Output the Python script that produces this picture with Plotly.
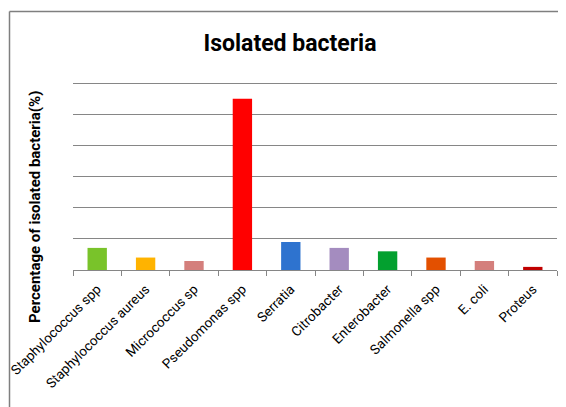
import plotly.graph_objects as go

categories = ["Staphylococcus spp", "Staphylococcus aureus", "Micrococcus sp",
              "Pseudomonas spp", "Serratia", "Citrobacter", "Enterobacter",
              "Salmonella spp", "E. coli", "Proteus"]
values = [7.1, 4.0, 2.9, 55.0, 9.0, 7.1, 6.0, 4.0, 2.9, 1.0]
colors = ["#79C32A", "#FFB300", "#D47F7C", "#FF0000", "#2E73CF",
          "#A48CBF", "#03A02F", "#E35000", "#D47F7C", "#C00000"]

OFF = 8  # page body margin
W, H = 566 - OFF, 407 - OFF
L, R, T, B = 73 - OFF, 9, 82 - OFF, 137
pw = W - L - R
ph = H - T - B

def px_x(p):
    return (p - OFF - L) / pw

def px_y(p):
    return (H - B - (p - OFF)) / ph

grey = "#868686"

fig = go.Figure(go.Bar(
    x=categories, y=values, marker=dict(color=colors, line=dict(width=0)),
    width=0.4,
))

fig.update_layout(
    width=W, height=H,
    margin=dict(l=L, r=R, t=T, b=B, autoexpand=False),
    plot_bgcolor="white", paper_bgcolor="white",
    showlegend=False,
    title=dict(text="<b>Isolated bacteria</b>", x=(290 - OFF) / W, xanchor="center",
               y=1 - (43 - OFF) / H, yanchor="middle",
               font=dict(family="Roboto, sans-serif", size=23, color="#000000")),
    xaxis=dict(
        tickangle=-45, showline=True, linecolor=grey, linewidth=1,
        ticks="outside", ticklen=5, tickcolor=grey, tickson="boundaries",
        ticklabelstandoff=5,
        tickfont=dict(family="Roboto, sans-serif", size=13.5, color="#000000"),
        showgrid=False, automargin=False,
    ),
    yaxis=dict(
        range=[0, 60.4], dtick=10, showticklabels=False, showgrid=True,
        gridcolor=grey, gridwidth=1, zeroline=False, showline=False, ticks="",
        automargin=False,
    ),
    annotations=[dict(
        text="<b>Percentage of isolated bacteria(%)</b>", textangle=-90,
        xref="paper", yref="paper", x=px_x(35), y=px_y(207),
        xanchor="center", yanchor="middle", showarrow=False,
        font=dict(family="Roboto, sans-serif", size=15, color="#000000"),
    )],
    shapes=[
        dict(type="line", xref="paper", yref="paper",
             x0=px_x(9.5), x1=px_x(W + 20), y0=px_y(11.5), y1=px_y(11.5),
             line=dict(color="#7F7F7F", width=1.5)),
        dict(type="line", xref="paper", yref="paper",
             x0=px_x(9.5), x1=px_x(9.5), y0=px_y(11.5), y1=px_y(H + 20),
             line=dict(color="#7F7F7F", width=1.5)),
    ],
)

fig.write_html("out.html")
